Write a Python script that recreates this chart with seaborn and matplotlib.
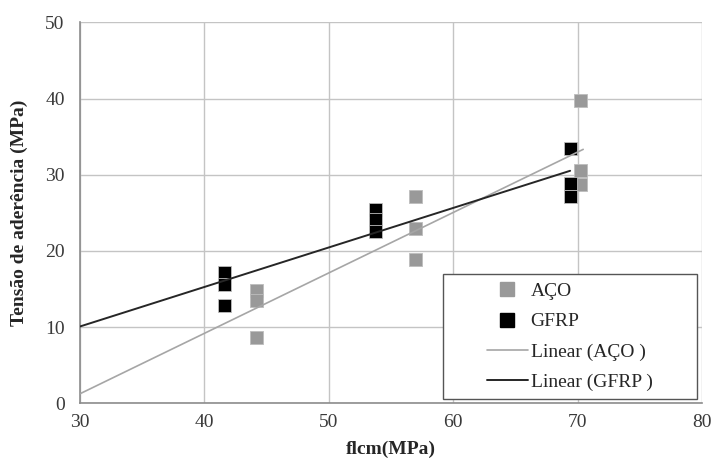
import numpy as np
import pandas as pd
import seaborn as sns
import matplotlib
matplotlib.use("Agg")
import matplotlib.pyplot as plt
from matplotlib.lines import Line2D
from matplotlib.patches import Rectangle

aco_x = [44.15, 44.15, 44.15, 57.0, 57.0, 57.0, 70.25, 70.25, 70.25]
aco_y = [14.8, 13.5, 8.6, 27.1, 23.0, 18.9, 39.8, 30.5, 28.7]
gfrp_x = [41.65, 41.65, 41.65, 53.75, 53.75, 53.75, 69.4, 69.4, 69.4]
gfrp_y = [17.2, 15.6, 12.8, 25.4, 24.1, 22.6, 33.4, 28.8, 27.2]

sns.set_theme(style="whitegrid")
plt.rcParams['font.family'] = ['Liberation Serif', 'DejaVu Serif']

fig = plt.figure(figsize=(7.11, 4.66), dpi=100)
ax = fig.add_axes([80/711, 1-403.3/466, 622/711, 381/466])

df = pd.DataFrame({
    "x": aco_x + gfrp_x,
    "y": aco_y + gfrp_y,
    "s": ["AÇO"] * len(aco_x) + ["GFRP"] * len(gfrp_x),
})

sns.scatterplot(data=df, x="x", y="y", hue="s", palette={"AÇO": "#999999", "GFRP": "#000000"},
                marker="s", s=88, linewidth=0.6, edgecolor="#bdbdbd", ax=ax, legend=False,
                zorder=3)

ca = np.polyfit(aco_x, aco_y, 1)
cg = np.polyfit(gfrp_x, gfrp_y, 1)
xa = np.array([30, max(aco_x) + 0.2])
xg = np.array([30, max(gfrp_x)])
ax.plot(xa, np.polyval(ca, xa), color="#a6a6a6", lw=1.2, zorder=4)
ax.plot(xg, np.polyval(cg, xg), color="#262626", lw=1.4, zorder=4)

ax.set_xlim(30, 80)
ax.set_ylim(0, 50)
ax.set_xticks(range(30, 81, 10))
ax.set_yticks(range(0, 51, 10))
ax.grid(True, color="#c4c4c4", lw=1)
for sp in ["top", "right"]:
    ax.spines[sp].set_visible(False)
for sp in ["left", "bottom"]:
    ax.spines[sp].set_color("#8c8c8c")
    ax.spines[sp].set_linewidth(1.2)
ax.tick_params(axis="both", which="both", length=5, color="#8c8c8c", labelsize=14,
               labelcolor="#3a3a3a", direction="out")
ax.tick_params(axis="y", pad=6)
ax.tick_params(axis="x", pad=3)
ax.set_xlabel("flcm(MPa)", fontsize=14, fontweight="bold", labelpad=7)
ax.set_ylabel("Tensão de aderência (MPa)", fontsize=14, fontweight="bold", labelpad=12)

# legend box
ax.add_patch(Rectangle((0.5836, 0.0113), 0.992 - 0.5836, 0.3394 - 0.0113,
                       transform=ax.transAxes, facecolor="white", edgecolor="#555555",
                       lw=1.0, zorder=5))
handles = [
    Line2D([], [], marker="s", color="#999999", ls="none", markersize=9.5),
    Line2D([], [], marker="s", color="#000000", ls="none", markersize=9.5),
    Line2D([], [], color="#a6a6a6", lw=1.2),
    Line2D([], [], color="#262626", lw=1.4),
]
labels = ["AÇO", "GFRP", "Linear (AÇO )", "Linear (GFRP )"]
leg = ax.legend(handles, labels, loc="upper left", bbox_to_anchor=(0.654, 0.317),
                fontsize=14, frameon=False, borderpad=0, labelspacing=0.65,
                handlelength=2.1, handletextpad=0.15, borderaxespad=0)
leg.set_zorder(6)

fig.savefig("out.png", dpi=100)
